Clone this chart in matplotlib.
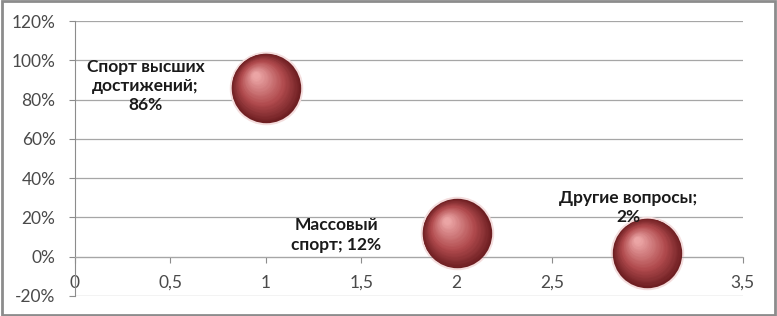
import numpy as np
import matplotlib.pyplot as plt
from matplotlib.patches import Rectangle
from matplotlib.transforms import offset_copy
from matplotlib.colors import to_rgb

plt.rcParams['font.family'] = ['Lato', 'DejaVu Sans']

# data
x_vals = [1, 2, 3]
y_vals = [86, 12, 2]
names = ['Спорт высших\nдостижений;\n86%', 'Массовый\nспорт; 12%', 'Другие вопросы;\n2%']
label_pos = [(0.37, 87), (1.37, 11), (2.90, 25)]
x_ticks = [0, 0.5, 1, 1.5, 2, 2.5, 3, 3.5]
x_tick_labels = ['0', '0,5', '1', '1,5', '2', '2,5', '3', '3,5']
y_ticks = [-20, 0, 20, 40, 60, 80, 100, 120]

fig = plt.figure(figsize=(7.77, 3.16), dpi=100)
ax = fig.add_axes([0.0965, 0.0633, 0.8595, 0.8702])
ax.set_xlim(0, 3.5)
ax.set_ylim(-20, 120)

# grid
for yt in y_ticks:
    ax.axhline(yt, color='#a6a6a6', lw=0.9, zorder=0)
for s in ['top', 'right']:
    ax.spines[s].set_visible(False)
ax.spines['left'].set_color('#8c8c8c')
ax.spines['bottom'].set_position(('data', 0))
ax.spines['bottom'].set_color('#a6a6a6')

ax.set_xticks(x_ticks)
ax.set_xticklabels(x_tick_labels)
ax.set_yticks(y_ticks)
ax.set_yticklabels([f'{v}%' for v in y_ticks])
ax.tick_params(axis='both', colors='#8c8c8c', labelcolor='#4a4a4a', labelsize=12.5, length=4)
ax.tick_params(axis='x', pad=9)
ax.tick_params(axis='y', pad=10)

# bubbles with a simple radial shading
dark = np.array(to_rgb('#6e1f22'))
mid = np.array(to_rgb('#b04a4d'))
light = np.array(to_rgb('#eba5a5'))
base_s = 2500
ax.scatter(x_vals, y_vals, s=base_s * 1.12, color='#f4dede', zorder=2, linewidths=0)
n = 30
for k in range(n):
    t = k / (n - 1)
    scale = 1 - 0.9 * t
    if t < 0.4:
        c = dark + (mid - dark) * (t / 0.4)
    else:
        c = mid + (light - mid) * ((t - 0.4) / 0.6)
    off = 9 * t
    tr = offset_copy(ax.transData, fig=fig, x=-off * 0.8, y=off, units='points')
    ax.scatter(x_vals, y_vals, s=base_s * scale ** 2, color=c, transform=tr,
               zorder=3, linewidths=0)

for (lx, ly), txt in zip(label_pos, names):
    ax.text(lx, ly, txt, ha='center', va='center', fontsize=12.5, fontweight='bold',
            color='#1a1a1a', zorder=5, linespacing=1.25)

fig.patches.append(Rectangle((0.002, 0.003), 0.995, 0.993, transform=fig.transFigure,
                             fill=False, edgecolor='#8c8c8c', lw=2))

fig.savefig('out.png', dpi=100)
